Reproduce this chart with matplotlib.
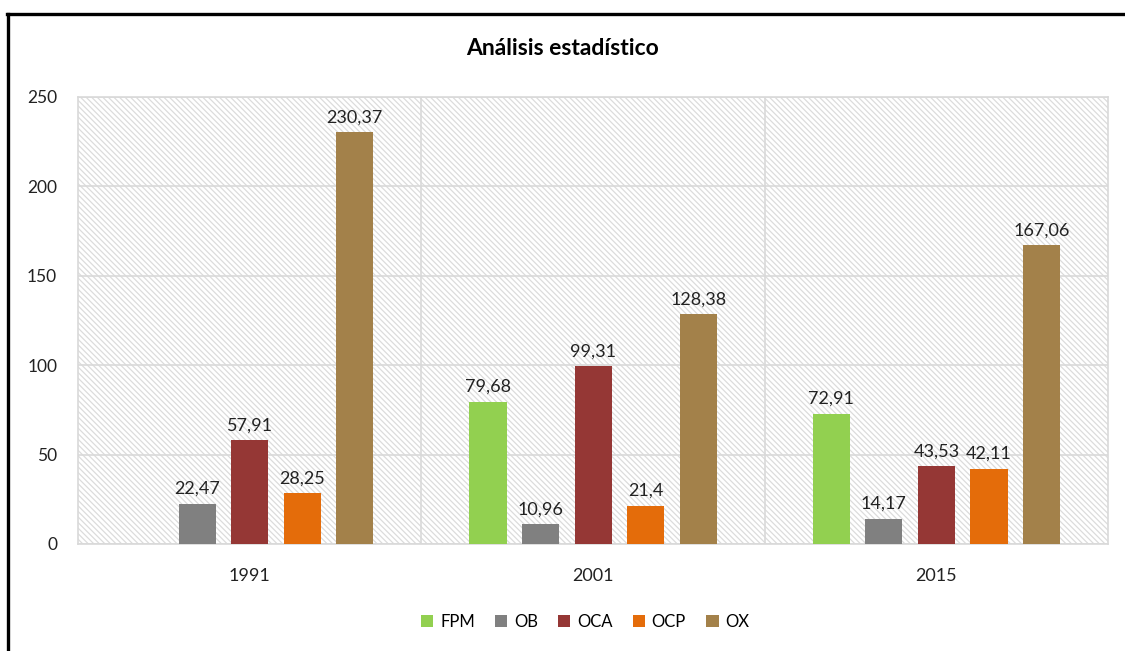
import numpy as np
import matplotlib.pyplot as plt
from matplotlib.patches import Rectangle
from matplotlib.lines import Line2D

years = ["1991", "2001", "2015"]
series = ["FPM", "OB", "OCA", "OCP", "OX"]
fpm = [0, 79.68, 72.91]
ob = [22.47, 10.96, 14.17]
oca = [57.91, 99.31, 43.53]
ocp = [28.25, 21.4, 42.11]
ox = [230.37, 128.38, 167.06]
colors = ["#92d050", "#808080", "#953735", "#e46c0a", "#a3814a"]

plt.rcParams['font.family'] = ['Lato', 'DejaVu Sans']
plt.rcParams['hatch.color'] = '#dcdcdc'
plt.rcParams['hatch.linewidth'] = 0.9

fig = plt.figure(figsize=(11.25, 6.51), dpi=100)
ax = fig.add_axes([0.0693, 0.1644, 0.9157, 0.6866])

# striped background
ax.add_patch(Rectangle((0, 0), 1, 1, transform=ax.transAxes, facecolor='white',
                       edgecolor='#dcdcdc', hatch='\\' * 6, lw=0, zorder=0))

x = np.arange(len(years))
step = 0.153
width = 0.108
for i, (name, vals) in enumerate(zip(series, [fpm, ob, oca, ocp, ox])):
    pos = x + (i - 2) * step
    ax.bar(pos, vals, width, color=colors[i], label=name, zorder=3)
    for p, v in zip(pos, vals):
        if v == 0:
            continue
        ax.annotate(f"{v:g}".replace('.', ','), (p, v), xytext=(0, 5),
                    textcoords='offset points', ha='center', va='bottom',
                    fontsize=13, color='#222222')

ax.set_xlim(-0.5, 2.5)
ax.set_ylim(0, 250)
ax.set_yticks(np.arange(0, 251, 50))
ax.set_xticks(x)
ax.set_xticklabels(years)
ax.tick_params(axis='both', length=0, labelsize=12.5, colors='#222222')
ax.tick_params(axis='y', pad=15)
ax.tick_params(axis='x', pad=17, labelsize=13)

ax.grid(axis='y', color='#d9d9d9', lw=1.2, zorder=1)
for b in [0.5, 1.5]:
    ax.axvline(b, color='#d9d9d9', lw=1.2, zorder=1)
ax.set_axisbelow(True)
for s in ax.spines.values():
    s.set_color('#d9d9d9')
    s.set_linewidth(1.2)

fig.text(0.5, 0.926, "Análisis estadístico", ha='center', va='center',
         fontsize=16.5, fontweight='bold', color='black')

fig.legend(loc='center', bbox_to_anchor=(0.52, 0.045), ncol=5, frameon=False,
           fontsize=12, handlelength=0.75, handleheight=0.75, handletextpad=0.4,
           columnspacing=1.2)

# black frame on the left and top edges
fig.add_artist(Line2D([0.0075, 0.0075], [0, 0.979], transform=fig.transFigure,
                      color='black', lw=2.4))
fig.add_artist(Line2D([0.0064, 1.0], [0.979, 0.979], transform=fig.transFigure,
                      color='black', lw=2.4))

fig.savefig("out.png", dpi=100)
